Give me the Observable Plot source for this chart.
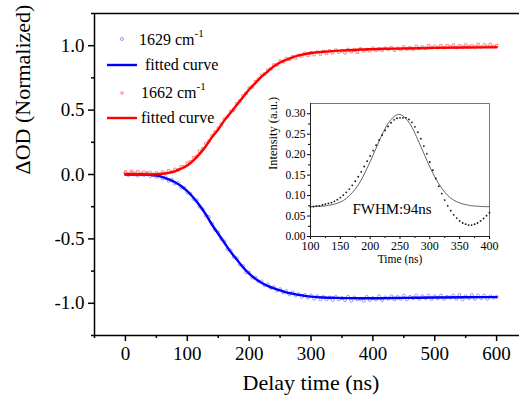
<!DOCTYPE html>
<html>
<head>
<meta charset="utf-8">
<script src="https://cdn.jsdelivr.net/npm/d3@7"></script>
<script src="https://cdn.jsdelivr.net/npm/@observablehq/plot@0.6"></script>
<style>
  html, body { margin: 0; padding: 0; background: white; }
  #wrap { position: relative; width: 519px; height: 398px; overflow: hidden; }
  #wrap svg text { font-family: "Liberation Serif", "DejaVu Serif", serif; }
</style>
</head>
<body>
<div id="wrap"></div>
<script>
// ---------- main chart data ----------
const mainTimes = d3.range(0, 605, 5); // sampling grid, ns
const blueValues = [
  0.01,-0.005,0.012,0.0,-0.01,0.008,-0.004,0.01,-0.012,0.0,
  -0.018,-0.006,-0.03,-0.022,-0.05,-0.04,-0.07,-0.065,-0.1,-0.105,
  -0.14,-0.15,-0.19,-0.2,-0.25,-0.27,-0.32,-0.33,-0.38,-0.43,
  -0.45,-0.5,-0.52,-0.58,-0.59,-0.64,-0.65,-0.7,-0.71,-0.76,
  -0.76,-0.8,-0.8,-0.83,-0.83,-0.86,-0.855,-0.88,-0.875,-0.9,
  -0.89,-0.915,-0.905,-0.93,-0.915,-0.94,-0.93,-0.95,-0.935,-0.955,
  -0.94,-0.965,-0.945,-0.97,-0.95,-0.97,-0.955,-0.975,-0.95,-0.97,
  -0.96,-0.975,-0.95,-0.98,-0.955,-0.97,-0.965,-0.98,-0.95,-0.975,
  -0.96,-0.97,-0.945,-0.975,-0.955,-0.965,-0.945,-0.97,-0.95,-0.965,
  -0.94,-0.97,-0.95,-0.96,-0.94,-0.965,-0.945,-0.96,-0.94,-0.965,
  -0.945,-0.96,-0.94,-0.965,-0.95,-0.955,-0.94,-0.965,-0.935,-0.97,
  -0.945,-0.96,-0.935,-0.965,-0.94,-0.96,-0.94,-0.965,-0.945,-0.955,
  -0.95
];
const redValues = [
  0.02,0.005,0.025,0.01,0.022,0.0,0.018,0.005,0.015,-0.005,
  0.012,0.0,0.02,0.01,0.03,0.02,0.04,0.035,0.06,0.06,
  0.09,0.1,0.13,0.14,0.18,0.2,0.24,0.26,0.3,0.33,
  0.36,0.39,0.43,0.45,0.49,0.5,0.55,0.57,0.61,0.63,
  0.67,0.68,0.72,0.74,0.77,0.78,0.81,0.82,0.85,0.85,
  0.88,0.875,0.9,0.895,0.915,0.905,0.925,0.92,0.94,0.925,
  0.945,0.93,0.95,0.935,0.955,0.94,0.96,0.945,0.965,0.95,
  0.96,0.945,0.97,0.955,0.965,0.95,0.975,0.96,0.97,0.96,
  0.98,0.965,0.975,0.965,0.98,0.97,0.985,0.965,0.98,0.97,
  0.99,0.975,0.985,0.975,0.995,0.98,0.99,0.98,1.0,0.985,
  0.995,0.985,1.0,0.985,1.0,0.99,1.005,0.985,1.0,0.99,
  1.005,0.99,1.0,0.99,1.01,0.99,1.005,0.995,1.01,0.995,
  1.0
];
const fitTimes = [0,10,20,30,40,50,60,70,80,90,100,110,120,130,140,150,160,170,180,190,200,
  210,220,230,240,250,260,270,280,290,300,320,340,360,380,400,420,450,500,550,600];
const blueFit = [0,0,0,0,-0.003,-0.008,-0.02,-0.038,-0.06,-0.09,-0.13,-0.18,-0.24,-0.31,-0.39,-0.46,
  -0.53,-0.60,-0.66,-0.72,-0.77,-0.81,-0.84,-0.865,-0.885,-0.90,-0.915,-0.925,-0.935,-0.942,-0.948,
  -0.955,-0.958,-0.96,-0.961,-0.961,-0.96,-0.958,-0.955,-0.953,-0.952];
const redFit = [0,0,0,0,0,0.002,0.006,0.013,0.025,0.045,0.07,0.11,0.16,0.22,0.29,0.35,0.42,0.48,
  0.54,0.60,0.66,0.71,0.76,0.80,0.84,0.87,0.89,0.91,0.925,0.935,0.943,0.953,0.96,0.965,0.97,0.973,
  0.976,0.978,0.983,0.986,0.988];

const xDomain = [-50, 637];
const yDomain = [-1.25, 1.25];
const xMajor = [0, 100, 200, 300, 400, 500, 600];
const xMinor = [-50, 50, 150, 250, 350, 450, 550];
const yMajor = [-1, -0.5, 0, 0.5, 1];
const yMinor = [-1.25, -0.75, -0.25, 0.25, 0.75, 1.25];

const legendLabels = ["1629 cm", " fitted curve", "1662 cm", "fitted curve"];

// ---------- inset data ----------
const insetTimes = d3.range(100, 405, 5);
const insetValues = [
  0.072,0.073,0.074,0.075,0.077,0.079,0.081,0.083,0.086,0.090,
  0.095,0.101,0.108,0.116,0.125,0.135,0.146,0.158,0.171,0.184,
  0.197,0.210,0.223,0.236,0.248,0.259,0.269,0.278,0.285,0.289,
  0.290,0.290,0.290,0.286,0.279,0.268,0.255,0.239,0.221,0.202,
  0.182,0.162,0.142,0.123,0.105,0.089,0.075,0.063,0.053,0.045,
  0.038,0.033,0.030,0.028,0.028,0.030,0.033,0.038,0.044,0.051,
  0.058
];
const insetFitTimes = d3.range(100, 410, 10);
const insetFit = [0.073,0.074,0.074,0.076,0.079,0.084,0.093,0.107,0.126,0.152,0.183,0.216,0.249,
  0.276,0.293,0.298,0.288,0.267,0.236,0.203,0.170,0.141,0.118,0.100,0.089,0.082,0.078,0.075,
  0.074,0.073,0.073];
const insetXMajor = [100, 150, 200, 250, 300, 350, 400];
const insetXMinor = [125, 175, 225, 275, 325, 375];
const insetYMajor = [0, 0.05, 0.10, 0.15, 0.20, 0.25, 0.30];
const insetYMinor = [0.025, 0.075, 0.125, 0.175, 0.225, 0.275];

// ---------- tables ----------
const blueData = mainTimes.map((t, i) => ({t, v: blueValues[i]}));
const redData = mainTimes.map((t, i) => ({t, v: redValues[i]}));
const blueFitData = fitTimes.map((t, i) => ({t, v: blueFit[i]}));
const redFitData = fitTimes.map((t, i) => ({t, v: redFit[i]}));
const insetData = insetTimes.map((t, i) => ({t, v: insetValues[i]}));
const insetFitData = insetFitTimes.map((t, i) => ({t, v: insetFit[i]}));

const FONT = "'Liberation Serif', 'DejaVu Serif', serif";

const main = Plot.plot({
  width: 519, height: 398,
  marginLeft: 94, marginTop: 13, marginRight: 0, marginBottom: 63,
  x: {domain: xDomain},
  y: {domain: yDomain},
  style: {fontFamily: FONT, fontSize: "19px", color: "black", background: "white", overflow: "visible"},
  marks: [
    Plot.axisX({ticks: xMajor, tickSize: 6, tickPadding: 5, strokeWidth: 1.5, tickFormat: d => String(d), label: null, fontSize: 19}),
    Plot.axisX({ticks: xMinor, tickSize: 3, strokeWidth: 1.5, text: null, label: null}),
    Plot.axisY({ticks: yMajor, tickSize: 6, tickPadding: 4, strokeWidth: 1.5, tickFormat: d => d.toFixed(1), label: null, fontSize: 19}),
    Plot.axisY({ticks: yMinor, tickSize: 3, strokeWidth: 1.5, text: null, label: null}),
    Plot.ruleX([xDomain[0]], {stroke: "black", strokeWidth: 1.5}),
    Plot.ruleY([yDomain[0]], {stroke: "black", strokeWidth: 1.5}),
    Plot.ruleY([yDomain[1]], {stroke: "black", strokeWidth: 1.5}),
    Plot.dot(blueData, {x: "t", y: "v", r: 1.5, stroke: "#8080ff", strokeWidth: 0.8, fill: "none"}),
    Plot.dot(redData, {x: "t", y: "v", r: 1.4, symbol: "square", stroke: "#ff7070", strokeWidth: 0.8, fill: "none"}),
    Plot.line(blueFitData, {x: "t", y: "v", stroke: "#0000ff", strokeWidth: 2.4, curve: "monotone-x"}),
    Plot.line(redFitData, {x: "t", y: "v", stroke: "#ff0000", strokeWidth: 2.4, curve: "monotone-x"}),
    Plot.text(["Delay time (ns)"], {text: d => d, frameAnchor: "bottom", dy: 54, dx: 4, fontSize: 22, fill: "black"}),
    Plot.text(["\u0394OD (Normalized)"], {text: d => d, frameAnchor: "left", rotate: -90, dx: -72, fontSize: 22, fill: "black"})
  ]
});

// legend
const lg = d3.select(main).append("g")
  .attr("font-size", 16).attr("fill", "black").attr("text-anchor", "start");
lg.append("circle").attr("cx", 122).attr("cy", 39).attr("r", 1.5).attr("fill", "none").attr("stroke", "#8080ff").attr("stroke-width", 0.8);
lg.append("line").attr("x1", 107).attr("x2", 137).attr("y1", 65).attr("y2", 65).attr("stroke", "#0000ff").attr("stroke-width", 2.4);
lg.append("rect").attr("x", 121).attr("y", 92).attr("width", 2).attr("height", 2).attr("fill", "none").attr("stroke", "#ff7070").attr("stroke-width", 0.8);
lg.append("line").attr("x1", 107).attr("x2", 137).attr("y1", 118).attr("y2", 118).attr("stroke", "#ff0000").attr("stroke-width", 2.4);
function supLabel(x, y, txt) {
  const t = lg.append("text").attr("x", x).attr("y", y);
  t.append("tspan").text(txt);
  t.append("tspan").attr("dy", -8).attr("font-size", 11).text("-1");
}
supLabel(139, 45, legendLabels[0]);
lg.append("text").attr("x", 141).attr("y", 70).text(legendLabels[1]);
supLabel(141, 98, legendLabels[2]);
lg.append("text").attr("x", 141).attr("y", 123).text(legendLabels[3]);

const inset = Plot.plot({
  width: 260, height: 185,
  marginLeft: 60, marginTop: 10, marginRight: 21, marginBottom: 42,
  x: {domain: [100, 400]},
  y: {domain: [0, 0.325]},
  style: {fontFamily: FONT, fontSize: "12px", color: "black", background: "transparent", overflow: "visible"},
  marks: [
    Plot.frame({fill: "white", stroke: "#777", strokeWidth: 1}),
    Plot.axisX({ticks: insetXMajor, tickSize: 3, tickPadding: 2, tickFormat: d => String(d), label: null, fontSize: 12}),
    Plot.axisX({ticks: insetXMinor, tickSize: 2, text: null, label: null}),
    Plot.axisY({ticks: insetYMajor, tickSize: 3, tickPadding: 2, tickFormat: d => d.toFixed(2), label: null, fontSize: 11.5}),
    Plot.axisY({ticks: insetYMinor, tickSize: 2, text: null, label: null}),
    Plot.ruleX([100], {stroke: "#222"}),
    Plot.ruleY([0], {stroke: "#222"}),
    Plot.line(insetFitData, {x: "t", y: "v", stroke: "#666", strokeWidth: 1, curve: "natural"}),
    Plot.dot(insetData, {x: "t", y: "v", r: 0.9, fill: "#111"}),
    Plot.text(["FWHM:94ns"], {text: d => d, frameAnchor: "bottom", dx: -8, dy: -23, fontSize: 15, fill: "black"}),
    Plot.text(["Time (ns)"], {text: d => d, frameAnchor: "bottom", dy: 26, fontSize: 11.5, fill: "black"}),
    Plot.text(["Intensity (a.u.)"], {text: d => d, frameAnchor: "left", rotate: -90, dx: -38, fontSize: 12.5, fill: "black"})
  ]
});
inset.style.position = "absolute";
inset.style.left = "250px";
inset.style.top = "93px";
main.style.position = "absolute";
main.style.left = "0px";
main.style.top = "0px";

const wrap = document.getElementById("wrap");
wrap.appendChild(main);
wrap.appendChild(inset);
</script>
</body>
</html>
